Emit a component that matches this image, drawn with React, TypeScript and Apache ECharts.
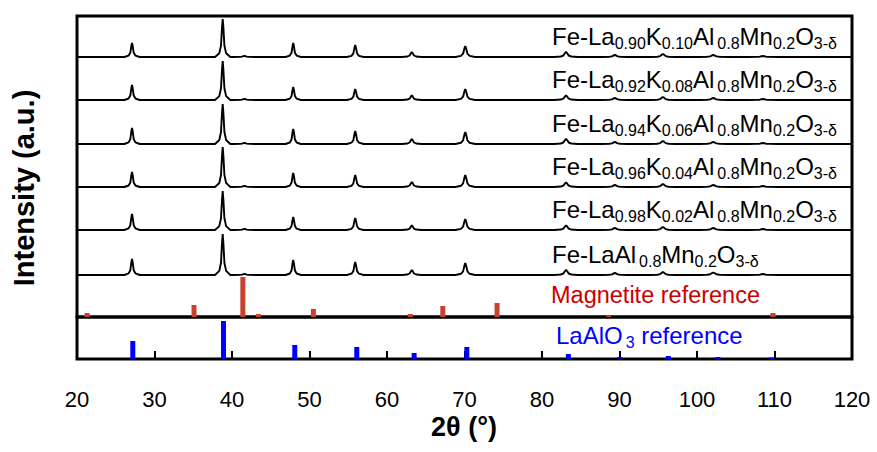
import React, { useEffect, useRef } from "react";
import * as echarts from "echarts";

// ---- axis ----
const X_MIN = 20;
const X_MAX = 120;
const X_STEP = 10;

// ---- measured XRD patterns (2θ positions of peaks, heights in a.u.) ----
const peakPositions = [27.1, 38.8, 41.6, 47.9, 55.9, 63.2, 70.1, 83.1, 89.4, 95.6, 102.1, 108.5];
const peakWidths = [1.1, 1.1, 1.5, 1.1, 1.2, 1.4, 1.4, 1.7, 1.8, 1.8, 2.0, 2.0];
const heights090 = [14, 38, 1.2, 14, 12, 5, 11, 5, 2, 3, 2, 1];
const heights092 = [15, 39, 1.2, 13, 11, 4.5, 11, 4.5, 2, 3, 2, 1];
const heights094 = [16, 40, 1.2, 15, 13, 5, 12, 5, 2, 3, 2, 1];
const heights096 = [15, 40, 1.2, 14, 12, 5, 12, 4.5, 2, 3, 2, 1];
const heights098 = [16, 39, 1.2, 13, 12, 4.5, 11, 4.5, 2, 3, 2, 1];
const heights100 = [16, 41, 1.2, 15, 13, 5, 12, 5, 2, 3, 2.5, 1];
const traceHeights = [heights090, heights092, heights094, heights096, heights098, heights100];
const traceOffsets = [260, 217, 173, 130, 87, 42];
// relative shape of one diffraction peak: [Δ2θ per unit width, fraction of height]
const peakProfile = [
  [-0.9, 0], [-0.4, 0.1], [-0.2, 0.3], [-0.08, 0.78], [0, 1],
  [0.08, 0.78], [0.2, 0.3], [0.4, 0.1], [0.9, 0],
];

// sample labels: [text, n = normal | s = subscript | t = subscript after a gap]
const sampleLabels: [string, string][][] = [
  [["Fe-La", "n"], ["0.90", "s"], ["K", "n"], ["0.10", "s"], ["Al", "n"], ["0.8", "t"], ["Mn", "n"], ["0.2", "s"], ["O", "n"], ["3-δ", "s"]],
  [["Fe-La", "n"], ["0.92", "s"], ["K", "n"], ["0.08", "s"], ["Al", "n"], ["0.8", "t"], ["Mn", "n"], ["0.2", "s"], ["O", "n"], ["3-δ", "s"]],
  [["Fe-La", "n"], ["0.94", "s"], ["K", "n"], ["0.06", "s"], ["Al", "n"], ["0.8", "t"], ["Mn", "n"], ["0.2", "s"], ["O", "n"], ["3-δ", "s"]],
  [["Fe-La", "n"], ["0.96", "s"], ["K", "n"], ["0.04", "s"], ["Al", "n"], ["0.8", "t"], ["Mn", "n"], ["0.2", "s"], ["O", "n"], ["3-δ", "s"]],
  [["Fe-La", "n"], ["0.98", "s"], ["K", "n"], ["0.02", "s"], ["Al", "n"], ["0.8", "t"], ["Mn", "n"], ["0.2", "s"], ["O", "n"], ["3-δ", "s"]],
  [["Fe-LaAl", "n"], ["0.8", "t"], ["Mn", "n"], ["0.2", "s"], ["O", "n"], ["3-δ", "s"]],
];

// ---- reference patterns ----
const magnetitePositions = [21.3, 35.1, 41.4, 43.4, 50.5, 63.0, 67.2, 74.2, 88.6, 109.8];
const magnetiteIntensity = [4, 12, 40, 3, 8, 3, 11, 14, 1.5, 4];
const laalo3Positions = [27.2, 38.9, 48.1, 56.1, 63.5, 70.3, 83.4, 90.0, 96.3, 102.7, 109.6];
const laalo3Intensity = [18, 38, 14, 12, 6, 12, 5, 2, 3, 2, 1.5];

const FONT = "'Liberation Sans', Arial, Helvetica, sans-serif";

function buildTrace(heights: number[], offset: number): number[][] {
  const pts: number[][] = [[X_MIN, offset]];
  peakPositions.forEach((p, i) => {
    const w = peakWidths[i];
    const h = heights[i];
    peakProfile.forEach(([dx, f]) => pts.push([p + dx * w, offset + f * h]));
  });
  pts.push([X_MAX, offset]);
  return pts;
}

function richString(parts: [string, string][]): string {
  return parts.map(([t, k]) => `{${k}|${t}}`).join("");
}

const richStyles = {
  n: { fontSize: 24, lineHeight: 27, fontFamily: FONT, verticalAlign: "top" },
  s: { fontSize: 16, lineHeight: 27, fontFamily: FONT, verticalAlign: "bottom" },
  t: { fontSize: 16, lineHeight: 27, fontFamily: FONT, verticalAlign: "bottom", padding: [0, 0, 0, 3] },
};

export default function App() {
  const ref = useRef<HTMLDivElement>(null);
  useEffect(() => {
    document.body.style.margin = "0";
    if (!ref.current) return;
    const chart = echarts.init(ref.current, undefined, { renderer: "svg" });
    const gridLeft = 77;
    const gridRight = 25;
    const top0 = 16;
    const h0 = 301;
    const top1 = 317;
    const h1 = 42;

    const traceSeries = traceHeights.map((hs, i) => ({
      type: "line",
      xAxisIndex: 0,
      yAxisIndex: 0,
      data: buildTrace(hs, traceOffsets[i]),
      showSymbol: false,
      lineStyle: { color: "#000", width: 1.9 },
      silent: true,
      z: 3,
    }));

    const labelGraphics = sampleLabels.map((parts, i) => ({
      type: "text",
      left: 552,
      top: top0 + h0 - traceOffsets[i] - 33,
      silent: true,
      style: {
        text: richString(parts),
        rich: richStyles,
        fill: "#000",
      },
    }));

    chart.setOption({
      animation: false,
      backgroundColor: "#fff",
      grid: [
        { left: gridLeft, right: gridRight, top: top0, height: h0, show: true, borderColor: "#000", borderWidth: 3, backgroundColor: "transparent" },
        { left: gridLeft, right: gridRight, top: top1, height: h1, show: true, borderColor: "#000", borderWidth: 3, backgroundColor: "transparent" },
      ],
      xAxis: [
        { type: "value", gridIndex: 0, min: X_MIN, max: X_MAX, interval: X_STEP, show: false },
        {
          type: "value", gridIndex: 1, min: X_MIN, max: X_MAX, interval: X_STEP,
          axisLine: { show: false },
          splitLine: { show: false },
          axisTick: { show: true, inside: true, length: 8, lineStyle: { color: "#000", width: 2 } },
          axisLabel: { color: "#000", fontSize: 22, fontFamily: FONT, margin: 29 },
        },
      ],
      yAxis: [
        { type: "value", gridIndex: 0, min: 0, max: h0, show: false },
        { type: "value", gridIndex: 1, min: 0, max: h1, show: false },
      ],
      series: [
        ...traceSeries,
        {
          type: "bar",
          xAxisIndex: 0,
          yAxisIndex: 0,
          barWidth: 5,
          data: magnetitePositions.map((p, i) => [p, magnetiteIntensity[i]]),
          itemStyle: { color: "#c8412f" },
          silent: true,
          z: 2,
        },
        {
          type: "bar",
          xAxisIndex: 1,
          yAxisIndex: 1,
          barWidth: 5,
          data: laalo3Positions.map((p, i) => [p, laalo3Intensity[i]]),
          itemStyle: { color: "#0000ff" },
          silent: true,
          z: 2,
        },
      ],
      graphic: [
        ...labelGraphics,
        {
          type: "text",
          left: 551,
          top: 283,
          silent: true,
          style: { text: "Magnetite reference", fontSize: 23.5, fontFamily: FONT, fill: "#cc0000" },
        },
        {
          type: "text",
          left: 556,
          top: 323,
          silent: true,
          style: {
            text: "{n|LaAlO}{t|3}{n| reference}",
            rich: richStyles,
            fill: "#0000ff",
          },
        },
        {
          type: "text",
          x: 24,
          y: 188,
          rotation: Math.PI / 2,
          silent: true,
          style: {
            text: "Intensity (a.u.)",
            fontSize: 29,
            fontWeight: "bold",
            fontFamily: FONT,
            fill: "#000",
            align: "center",
            verticalAlign: "middle",
          },
        },
        {
          type: "text",
          x: 464,
          y: 427,
          silent: true,
          style: {
            text: "2θ (°)",
            fontSize: 27,
            fontWeight: "bold",
            fontFamily: FONT,
            fill: "#000",
            align: "center",
            verticalAlign: "middle",
          },
        },
      ],
    });
    return () => chart.dispose();
  }, []);
  return <div ref={ref} style={{ position: "fixed", left: 0, top: 0, width: 877, height: 452 }} />;
}
